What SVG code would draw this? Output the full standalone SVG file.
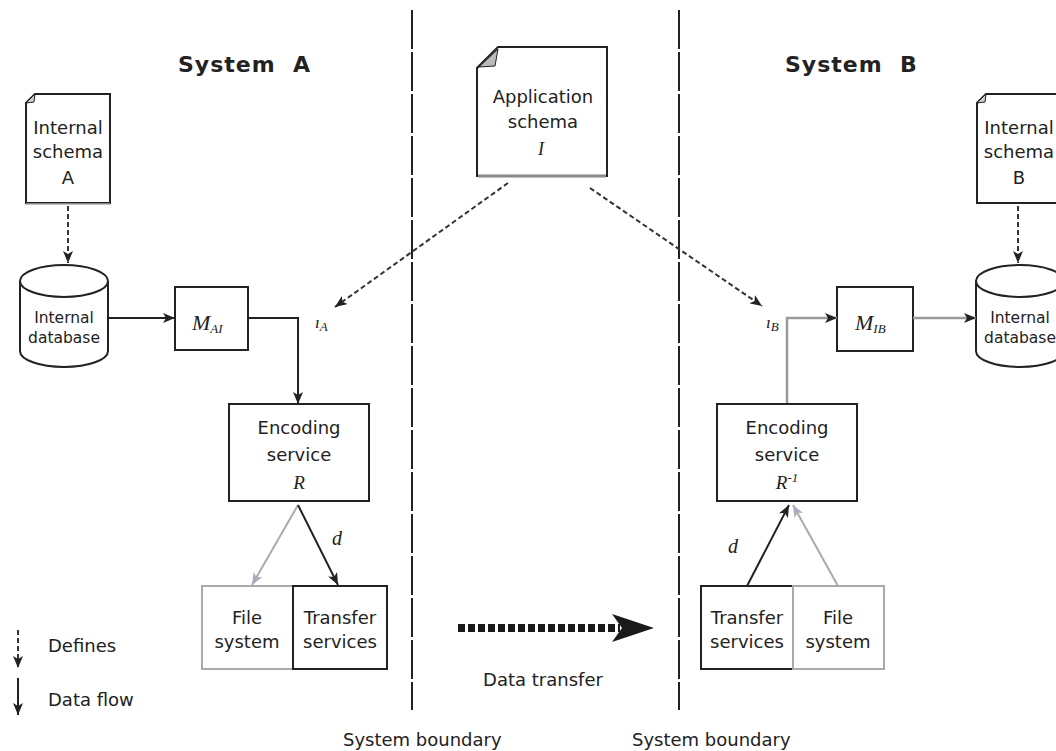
<svg xmlns="http://www.w3.org/2000/svg" width="1056" height="751" viewBox="0 0 1056 751">
<style>
text{font-family:"DejaVu Sans","Liberation Sans",sans-serif;fill:#222}
.t{font-size:18px;text-anchor:middle}
.db{font-size:15.5px;text-anchor:middle}
.m{font-family:"Liberation Serif","DejaVu Serif",serif;font-style:italic}
.title{font-size:22px;font-weight:bold;letter-spacing:1px;white-space:pre}
.box{fill:#fff;stroke:#222;stroke-width:2}
.gbox{fill:#fff;stroke:#aaa;stroke-width:2}
.ln{fill:none;stroke:#222;stroke-width:2}
.gl{fill:none;stroke:#999;stroke-width:2.5}
.gl2{fill:none;stroke:#aaa;stroke-width:2}
.ds{fill:none;stroke:#333;stroke-width:2;stroke-dasharray:5 3}
.bd{fill:none;stroke:#222;stroke-width:2;stroke-dasharray:39 3}
</style>
<defs>
<marker id="ah" viewBox="0 0 12 10" refX="12" refY="5" markerWidth="12" markerHeight="10" markerUnits="userSpaceOnUse" orient="auto"><path d="M0,0 L12,5 L0,10 L3,5 Z" fill="#222"/></marker>
<marker id="ahg" viewBox="0 0 12 10" refX="12" refY="5" markerWidth="12" markerHeight="10" markerUnits="userSpaceOnUse" orient="auto"><path d="M0,0 L12,5 L0,10 L3,5 Z" fill="#aab"/></marker>
</defs>

<g id="boundaries">
<line class="bd" x1="412" y1="10" x2="412" y2="710"/>
<line class="bd" x1="679" y1="10" x2="679" y2="710"/>
<text x="343" y="746" font-size="18">System boundary</text>
<text x="632" y="746" font-size="18">System boundary</text>
</g>

<g id="titles">
<text class="title" x="178" y="72" xml:space="preserve">System  A</text>
<text class="title" x="785" y="72" xml:space="preserve">System  B</text>
</g>

<g id="internal-schema-a">
<path class="box" d="M35,94 L110,94 L110,203 L26,203 L26,103 Z"/>
<path d="M26,103 L35,94 L34,102 Z" fill="#ccc" stroke="#222" stroke-width="1"/>
<line x1="26" y1="204" x2="110" y2="204" stroke="#aaa" stroke-width="1.5"/>
<text class="t" x="68" y="134">Internal</text>
<text class="t" x="68" y="158">schema</text>
<text class="t" x="68" y="184">A</text>
</g>

<g id="internal-database-a">
<path class="box" d="M20,281 L20,351 A44,16 0 0 0 108,351 L108,281"/>
<ellipse class="box" cx="64" cy="281" rx="44" ry="16"/>
<text class="db" x="64" y="323">Internal</text>
<text class="db" x="64" y="343">database</text>
</g>

<g id="m-ai">
<rect class="box" x="175" y="287" width="73" height="63"/>
<text class="m" x="192" y="330" font-size="22">M<tspan font-size="13" dy="3">AI</tspan></text>
</g>

<g id="label-ia">
<text class="m" x="315" y="328" font-size="17">ı<tspan font-size="13" dy="3">A</tspan></text>
</g>

<g id="application-schema">
<path class="box" d="M498,47 L607,47 L607,176 L477,176 L477,68 Z"/>
<path d="M479,67 L498,49 L495,66 Z" fill="#bbb" stroke="#222" stroke-width="1"/>
<line x1="478" y1="176" x2="606" y2="176" stroke="#888" stroke-width="3"/>
<text class="t" x="543" y="103">Application</text>
<text class="t" x="543" y="128">schema</text>
<text class="m" x="541" y="155" font-size="18" text-anchor="middle" fill="#555">I</text>
</g>

<g id="encoding-service-a">
<rect class="box" x="229" y="404" width="140" height="97"/>
<text class="t" x="299" y="434">Encoding</text>
<text class="t" x="299" y="461">service</text>
<text class="m" x="299" y="489" font-size="19" text-anchor="middle" fill="#555">R</text>
</g>

<g id="file-system-a">
<rect class="gbox" x="202" y="586" width="91" height="83"/>
<text class="t" x="247" y="624">File</text>
<text class="t" x="247" y="648">system</text>
</g>

<g id="transfer-services-a">
<rect class="box" x="293" y="586" width="94" height="83"/>
<text class="t" x="340" y="624">Transfer</text>
<text class="t" x="340" y="648">services</text>
</g>

<g id="label-ib">
<text class="m" x="766" y="328" font-size="17">ı<tspan font-size="13" dy="3">B</tspan></text>
</g>

<g id="m-ib">
<rect class="box" x="837" y="287" width="76" height="64"/>
<text class="m" x="855" y="330" font-size="22">M<tspan font-size="13" dy="3">IB</tspan></text>
</g>

<g id="internal-schema-b">
<path class="box" d="M986,94 L1061,94 L1061,203 L977,203 L977,103 Z"/>
<path d="M977,103 L986,94 L985,102 Z" fill="#ccc" stroke="#222" stroke-width="1"/>
<text class="t" x="1019" y="134">Internal</text>
<text class="t" x="1019" y="158">schema</text>
<text class="t" x="1019" y="184">B</text>
</g>

<g id="internal-database-b">
<path class="box" d="M976,281 L976,351 A44,16 0 0 0 1064,351 L1064,281"/>
<ellipse class="box" cx="1020" cy="281" rx="44" ry="16"/>
<text class="db" x="1020" y="323">Internal</text>
<text class="db" x="1020" y="343">database</text>
</g>

<g id="encoding-service-b">
<rect class="box" x="717" y="404" width="140" height="97"/>
<text class="t" x="787" y="434">Encoding</text>
<text class="t" x="787" y="461">service</text>
<text class="m" x="787" y="489" font-size="19" text-anchor="middle" fill="#555">R<tspan font-size="13" dy="-7">-1</tspan></text>
</g>

<g id="transfer-services-b">
<rect class="box" x="701" y="586" width="92" height="83"/>
<text class="t" x="747" y="624">Transfer</text>
<text class="t" x="747" y="648">services</text>
</g>

<g id="file-system-b">
<rect class="gbox" x="793" y="586" width="91" height="83"/>
<text class="t" x="838" y="624">File</text>
<text class="t" x="838" y="648">system</text>
</g>

<g id="connectors">
<path class="ds" d="M68,206 L68,263" marker-end="url(#ah)"/>
<path class="ln" d="M108,318 L175,318" marker-end="url(#ah)"/>
<path class="ln" d="M248,318 L298,318 L298,404" marker-end="url(#ah)"/>
<path class="ds" d="M508,183 L335,307" marker-end="url(#ah)"/>
<path class="ds" d="M590,188 L762,306" marker-end="url(#ah)"/>
<path class="gl" d="M787,403 L787,318 L837,318" marker-end="url(#ah)"/>
<path class="gl" d="M913,318 L976,318" marker-end="url(#ah)"/>
<path class="ds" d="M1018,206 L1018,263" marker-end="url(#ah)"/>
<path class="gl2" d="M298,505 L252,585" marker-end="url(#ahg)"/>
<path class="ln" d="M298,505 L338,585" marker-end="url(#ah)"/>
<path class="ln" d="M747,586 L789,505" marker-end="url(#ah)"/>
<path class="gl2" d="M838,586 L793,505" marker-end="url(#ahg)"/>
<text class="m" x="332" y="545" font-size="20">d</text>
<text class="m" x="728" y="553" font-size="20">d</text>
<line x1="458" y1="628" x2="620" y2="628" stroke="#1a1a1a" stroke-width="8" stroke-dasharray="7 3"/>
<path d="M612,614 L654,628 L612,642 L622,628 Z" fill="#1a1a1a"/>
<text class="t" x="543" y="686">Data transfer</text>
</g>

<g id="legend">
<path class="ds" d="M18,630 L18,668" marker-end="url(#ah)"/>
<path class="ln" d="M18,678 L18,715" marker-end="url(#ah)"/>
<text x="48" y="652" font-size="18">Defines</text>
<text x="48" y="706" font-size="18">Data flow</text>
</g>
</svg>
